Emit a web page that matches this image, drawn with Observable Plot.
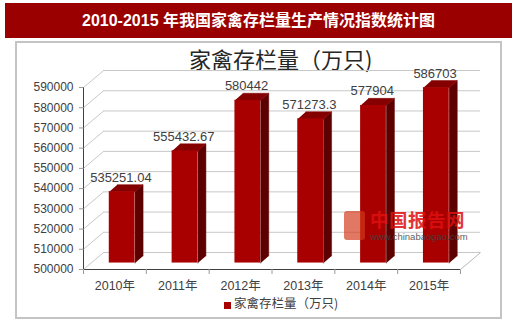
<!DOCTYPE html>
<html>
<head>
<meta charset="utf-8">
<script src="https://cdn.jsdelivr.net/npm/d3@7"></script>
<script src="https://cdn.jsdelivr.net/npm/@observablehq/plot@0.6"></script>
<style>
  html, body { margin: 0; padding: 0; background: #fff; }
  #wrap { position: relative; width: 520px; height: 321px; overflow: hidden; background: #fff; font-family: "Liberation Sans", "Noto Sans CJK SC", sans-serif; }
  #banner { position: absolute; left: 5px; top: 3px; width: 507px; height: 35px; background: #9b0000; color: #fff; font-weight: bold; font-size: 16px; line-height: 35px; text-align: center; font-family: "Liberation Sans", "Noto Sans CJK SC", sans-serif; }
  #box { position: absolute; left: 15px; top: 41px; width: 483px; height: 274px; border: 2px solid #c4c4c4; }
  #ctitle { position: absolute; left: 189px; top: 46px; font-size: 22px; line-height: 24px; color: #262626; font-family: "Noto Sans CJK SC", sans-serif; white-space: nowrap; }
  #chart { position: absolute; left: 0; top: 0; }
  #legend { position: absolute; left: 224px; top: 296px; font-size: 12.5px; line-height: 14px; color: #404040; white-space: nowrap; font-family: "Noto Sans CJK SC", sans-serif; }
  #legend .sw { display: inline-block; width: 7px; height: 7px; background: #a80000; margin-right: 3px; vertical-align: -1px; }
  #wm { position: absolute; left: 344px; top: 209px; opacity: 0.85; }
  #wm .logo { position: absolute; left: 0; top: 2px; width: 21px; height: 29px; background: #d23a1a; border-radius: 3px; opacity: 0.8; }
  #wm .cn { position: absolute; left: 26px; top: 0; font-size: 18.5px; line-height: 20px; color: #e01010; font-weight: bold; white-space: nowrap; font-family: "Noto Sans CJK SC", sans-serif; letter-spacing: 0.5px; }
  #wm .url { position: absolute; left: 26px; top: 22px; font-size: 9.5px; line-height: 11px; color: #444; white-space: nowrap; font-family: "Liberation Sans", sans-serif; }
  .plot [aria-label^="y-axis"] path, .plot [aria-label^="y-axis"] line,
  .plot [aria-label^="x-axis"] path, .plot [aria-label^="x-axis"] line { stroke: #9a9a9a; }
</style>
</head>
<body>
<div id="wrap">
  <div id="banner">2010-2015 年我国家禽存栏量生产情况指数统计图</div>
  <div id="box"></div>
  <div id="ctitle"></div>
  <div id="chart"></div>
  <div id="legend"><span class="sw"></span><span id="legtext"></span></div>
  <div id="wm"><div class="logo"></div><div class="cn">中国报告网</div><div class="url">www.chinabaogao.com</div></div>
</div>
<script>
// ---- data ----
const years = ["2010年", "2011年", "2012年", "2013年", "2014年", "2015年"];
const values = [535251.04, 555432.67, 580442, 571273.3, 577904, 586703];
const yTicks = [500000, 510000, 520000, 530000, 540000, 550000, 560000, 570000, 580000, 590000];
const seriesName = "家禽存栏量（万只)";

document.getElementById("ctitle").textContent = seriesName;
document.getElementById("legtext").textContent = seriesName;

// ---- 3D geometry (in data units) ----
const n = years.length;
const yMin = yTicks[0], yMax = yTicks[yTicks.length - 1];
const wallDX = 0.32, wallDY = 8400;           // depth of the 3D box
const offDX = wallDX * 0.36, offDY = wallDY * 0.38; // bar placement inside the depth
const barDX = wallDX * 0.4, barDY = wallDY * 0.42;  // bar thickness in depth
const half = 0.205;                            // half of bar width

const rows = years.map((year, i) => ({ year, value: values[i], i }));
const L = d => d.i + 0.5 - half + offDX;
const R = d => d.i + 0.5 + half + offDX;
const base = yMin + offDY;
const top_ = d => d.value + offDY;

const sidePts = rows.flatMap(d => [
  { k: d.i, x: R(d), y: base },
  { k: d.i, x: R(d), y: top_(d) },
  { k: d.i, x: R(d) + barDX, y: top_(d) + barDY },
  { k: d.i, x: R(d) + barDX, y: base + barDY }
]);
const topPts = rows.flatMap(d => [
  { k: d.i, x: L(d), y: top_(d) },
  { k: d.i, x: R(d), y: top_(d) },
  { k: d.i, x: R(d) + barDX, y: top_(d) + barDY },
  { k: d.i, x: L(d) + barDX, y: top_(d) + barDY }
]);
const edges = d3.range(n + 1);

const chart = Plot.plot({
  className: "plot",
  width: 520,
  height: 321,
  marginLeft: 83,
  marginRight: 60,
  marginTop: 87,
  marginBottom: 52,
  style: { background: "transparent", fontFamily: "Liberation Sans, Noto Sans CJK SC, sans-serif", fontSize: "12px", color: "#404040", overflow: "visible" },
  x: { domain: [0, n], ticks: edges, tickFormat: () => "", tickSize: 5, line: true, label: null },
  y: { domain: [yMin, yMax], ticks: yTicks, tickFormat: "d", tickSize: 4, tickPadding: 6, line: true, label: null },
  marks: [
    // back wall gridlines
    Plot.ruleY(yTicks, { y: d => d + wallDY, x1: () => wallDX, x2: () => n + wallDX, stroke: "#c8c8c8", strokeWidth: 1 }),
    // left wall connectors
    Plot.link(yTicks, { x1: () => 0, x2: () => wallDX, y1: d => d, y2: d => d + wallDY, stroke: "#c8c8c8", strokeWidth: 1 }),
    // right floor edge
    Plot.link([yMin], { x1: () => n, x2: () => n + wallDX, y1: d => d, y2: d => d + wallDY, stroke: "#b8b8b8", strokeWidth: 1 }),
    // bars: side and top faces
    Plot.line(sidePts, { x: "x", y: "y", z: "k", fill: "#5c0000", stroke: "#5c0000", strokeWidth: 0.5 }),
    Plot.line(topPts, { x: "x", y: "y", z: "k", fill: "#850000", stroke: "#850000", strokeWidth: 0.5 }),
    // bars: front faces
    Plot.rect(rows, { x1: L, x2: R, y1: () => base, y2: top_, fill: "#a80000" }),
    // value labels
    Plot.text(rows, { x: d => d.i + 0.5 + offDX - 0.02, y: d => top_(d) + barDY, text: d => String(d.value), lineAnchor: "bottom", dy: -3, fill: "#404040", fontSize: 13 }),
    // category labels
    Plot.text(rows, { x: d => d.i + 0.5, y: () => yMin, text: "year", dy: 16, fill: "#404040", fontSize: 12.5 })
  ]
});
document.getElementById("chart").appendChild(chart);
</script>
</body>
</html>
